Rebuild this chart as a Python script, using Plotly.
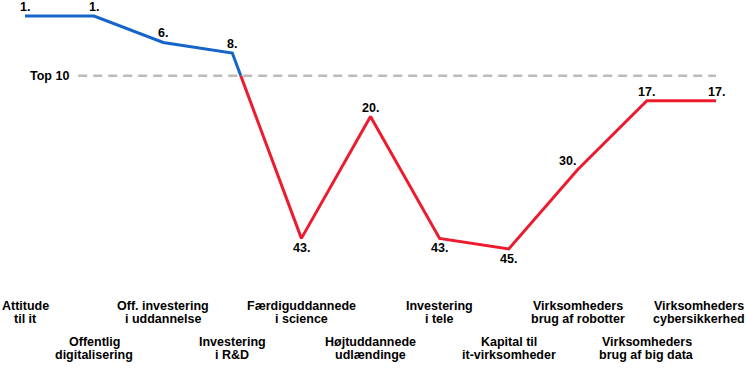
import plotly.graph_objects as go

categories = [
    ["Attitude", "til it"],
    ["Offentlig", "digitalisering"],
    ["Off. investering", "i uddannelse"],
    ["Investering", "i R&D"],
    ["Færdiguddannede", "i science"],
    ["Højtuddannede", "udlændinge"],
    ["Investering", "i tele"],
    ["Kapital til", "it-virksomheder"],
    ["Virksomheders", "brug af robotter"],
    ["Virksomheders", "brug af big data"],
    ["Virksomheders", "cybersikkerhed"],
]
ranks = [1, 1, 6, 8, 43, 20, 43, 45, 30, 17, 17]
rank_labels = [f"{r}." for r in ranks]
# where the rank label sits relative to its point: above, below or above-left
label_side = ["above", "above", "above", "above", "below", "above",
              "below", "below", "aboveleft", "above", "above"]
threshold = 12.3  # visual position of the "Top 10" line
threshold_label = "Top 10"

BLUE = "#1565c8"
RED = "#ec1c2e"
FONT = "Liberation Sans, Arial, sans-serif"
FS = 12.5
H = 369

x = list(range(len(ranks)))

# split line where it crosses the threshold
blue_x, blue_y, red_x, red_y = [], [], [], []
for i in range(len(ranks)):
    if ranks[i] <= threshold and not red_x:
        blue_x.append(x[i]); blue_y.append(ranks[i])
        if i + 1 < len(ranks) and ranks[i + 1] > threshold:
            t = (threshold - ranks[i]) / (ranks[i + 1] - ranks[i])
            cx = x[i] + t * (x[i + 1] - x[i])
            blue_x.append(cx); blue_y.append(threshold)
            red_x.append(cx); red_y.append(threshold)
    else:
        red_x.append(x[i]); red_y.append(ranks[i])

fig = go.Figure()
fig.add_trace(go.Scatter(x=blue_x, y=blue_y, mode="lines",
                         line=dict(color=BLUE, width=3), hoverinfo="skip"))
fig.add_trace(go.Scatter(x=red_x, y=red_y, mode="lines",
                         line=dict(color=RED, width=3), hoverinfo="skip"))

font = dict(family=FONT, size=FS, color="black")
for xi, r, lab, side in zip(x, ranks, rank_labels, label_side):
    shifts = {"above": (0, 9), "below": (0, -10), "aboveleft": (-10, 9)}[side]
    fig.add_annotation(xref="x", yref="y", x=xi, y=r, text=f"<b>{lab}</b>", showarrow=False,
                       xanchor="center", yanchor="middle", xshift=shifts[0], yshift=shifts[1],
                       font=font)

fig.add_shape(type="line", xref="x", yref="y", x0=0.77, x1=10, y0=threshold, y1=threshold,
              line=dict(color="#bbbbbb", width=2.5, dash="9px,6px"), layer="below")
fig.add_annotation(xref="paper", yref="y", x=71 / 746, y=threshold, xanchor="right",
                   yanchor="middle", text=f"<b>{threshold_label}</b>", showarrow=False,
                   font=font)

row_lines = [(306, 318.5), (342, 354.5)]  # pixel centres of the two text lines per row
last = len(categories) - 1
for i, lines in enumerate(categories):
    py = row_lines[i % 2]
    for j, line in enumerate(lines):
        common = dict(yref="paper", y=1 - py[j] / H, yanchor="middle", text=f"<b>{line}</b>",
                      showarrow=False, font=font)
        if i == last:
            # clamp the last label to the right edge of the chart
            fig.add_annotation(xref="paper", x=699 / 746, xanchor="center", **common)
        else:
            fig.add_annotation(xref="x", x=x[i], xanchor="center", **common)

fig.update_layout(
    width=746, height=H,
    margin=dict(l=0, r=0, t=0, b=0),
    paper_bgcolor="white", plot_bgcolor="white",
    showlegend=False,
    xaxis=dict(range=[-25 / 69.1, 10 + 30 / 69.1], visible=False),
    yaxis=dict(range=[67.67, -2.02], visible=False),
)

fig.write_html("out.html", config={"displayModeBar": False, "staticPlot": True},
               post_script="document.body.style.margin='0';document.body.style.overflow='hidden';")
